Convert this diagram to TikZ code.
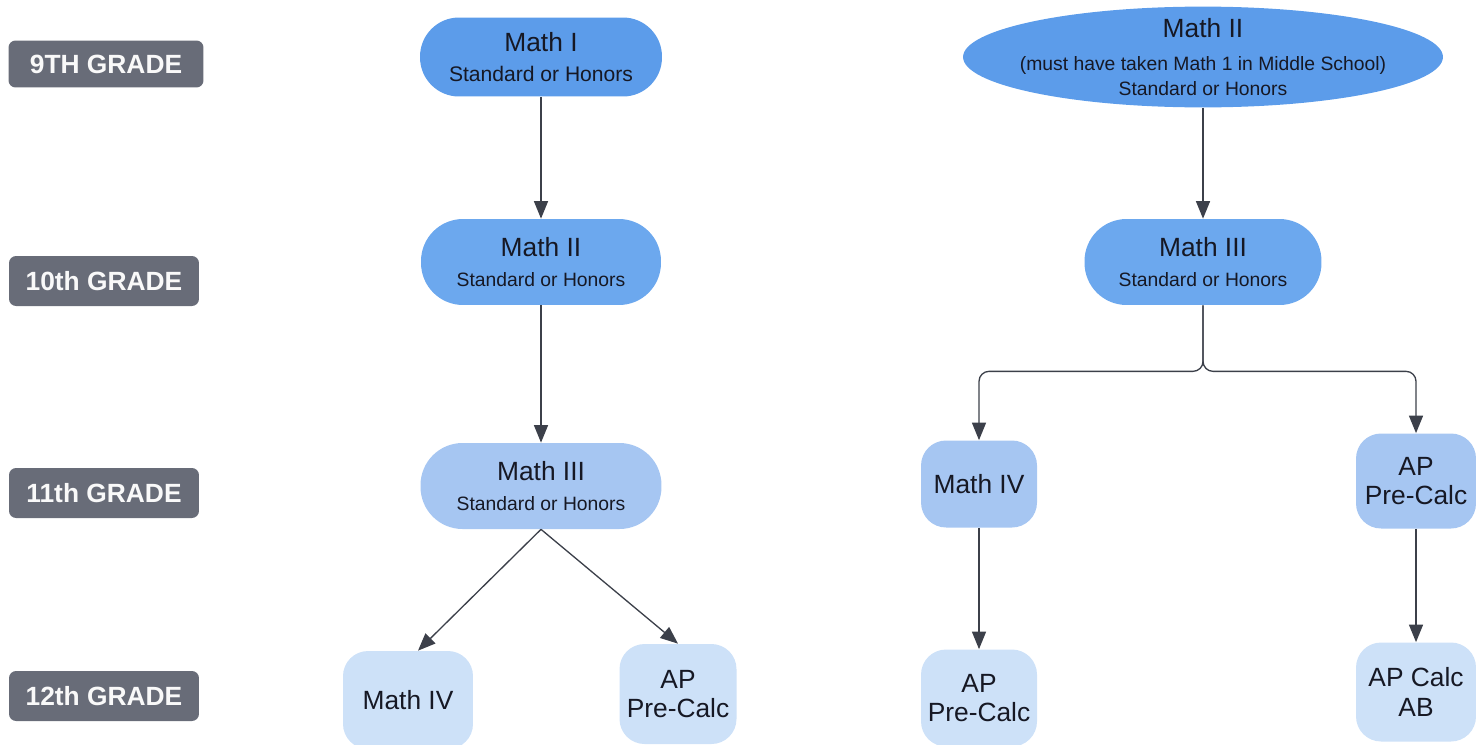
\documentclass[tikz,border=0pt]{standalone}
\usepackage{fontspec}
\setmainfont{Liberation Sans}
\usetikzlibrary{arrows.meta,shapes.geometric}
\definecolor{gradegray}{RGB}{104,108,120}
\definecolor{lvlone}{RGB}{92,156,234}
\definecolor{lvltwo}{RGB}{108,168,238}
\definecolor{lvlthree}{RGB}{166,198,242}
\definecolor{lvlfour}{RGB}{205,225,248}
\definecolor{textdark}{RGB}{22,24,36}
\definecolor{linkgray}{RGB}{60,64,74}
\tikzset{
	grade/.style={fill=gradegray, rounded corners=4pt, text=white!95!gray, inner sep=0pt, font=\bfseries\fontsize{15}{18}\selectfont, minimum width=3.8cm, minimum height=1cm},
	course/.style={text=textdark, align=center, inner sep=0pt, font=\fontsize{15}{17}\selectfont},
	pill/.style={course, rounded corners=0.84cm},
	blob/.style={course, rounded corners=0.5cm},
	link/.style={draw=linkgray, line width=0.75pt, -{Triangle[length=10pt,width=8pt]}}
}
\newcommand{\sub}[1]{{\fontsize{11}{13}\selectfont #1}}
\begin{document}
\begin{tikzpicture}[x=0.02cm, y=-0.02cm]
			%%%%% START %%%%%
			\useasboundingbox (0,0) rectangle (1476,744);
			
			\node[grade, minimum width=3.9cm, minimum height=0.94cm] (gnine) at (106,64) {9TH GRADE};
			\node[grade] (gten) at (104,281) {10th GRADE};
			\node[grade] (geleven) at (104,493) {11th GRADE};
			\node[grade] (gtwelve) at (104,696) {12th GRADE};
			
			\node[pill, fill=lvlone, rounded corners=0.78cm, minimum width=4.84cm, minimum height=1.58cm] (mathI) at (541,57) {Math I\\{\fontsize{12}{14}\selectfont Standard or Honors}};
			\node[pill, fill=lvltwo, minimum width=4.80cm, minimum height=1.72cm] (mathIIL) at (541,262) {Math II\\\sub{Standard or Honors}};
			\node[pill, fill=lvlthree, minimum width=4.82cm, minimum height=1.72cm] (mathIIIL) at (541,486) {Math III\\\sub{Standard or Honors}};
			\node[blob, fill=lvlfour, minimum width=2.60cm, minimum height=1.96cm] (mathIVL) at (408,700) {Math IV};
			\node[blob, fill=lvlfour, minimum width=2.34cm, minimum height=2.00cm] (precalcL) at (678,694) {AP\\Pre-Calc};
			
			\node[course, ellipse, fill=lvlone, inner xsep=-0.32cm, inner ysep=-0.06cm, minimum width=9.6cm, minimum height=1.98cm] (mathIIR) at (1203,57) {Math II\\[2pt]\sub{(must have taken Math 1 in Middle School)}\\[-3pt]\sub{Standard or Honors}};
			\node[pill, fill=lvltwo, minimum width=4.74cm, minimum height=1.72cm] (mathIIIR) at (1203,262) {Math III\\\sub{Standard or Honors}};
			\node[blob, fill=lvlthree, minimum width=2.32cm, minimum height=1.74cm] (mathIVR) at (979,484) {Math IV};
			\node[blob, fill=lvlthree, minimum width=2.40cm, minimum height=1.90cm] (precalcR) at (1416,481) {AP\\Pre-Calc};
			\node[blob, fill=lvlfour, minimum width=2.32cm, minimum height=1.94cm] (precalcRR) at (979,698) {AP\\Pre-Calc};
			\node[blob, fill=lvlfour, minimum width=2.40cm, minimum height=1.98cm] (calcab) at (1416,692) {AP Calc\\AB};
			
			\draw[link] (mathI) -- (mathIIL);
			\draw[link] (mathIIL) -- (mathIIIL);
			\draw[link] (mathIIIL.south) -- ([xshift=0.2cm]mathIVL.north);
			\draw[link] (mathIIIL.south) -- (precalcL.north);
			
			\draw[link] (mathIIR) -- (mathIIIR);
			\draw[link, rounded corners=0.2cm] (mathIIIR.south) -- ++(0,66) -| (mathIVR.north);
			\draw[link, rounded corners=0.2cm] (mathIIIR.south) -- ++(0,66) -| (precalcR.north);
			\draw[link] (mathIVR) -- (precalcRR);
			\draw[link] (precalcR) -- (calcab);
			%%%%% END %%%%%
\end{tikzpicture}
\end{document}
